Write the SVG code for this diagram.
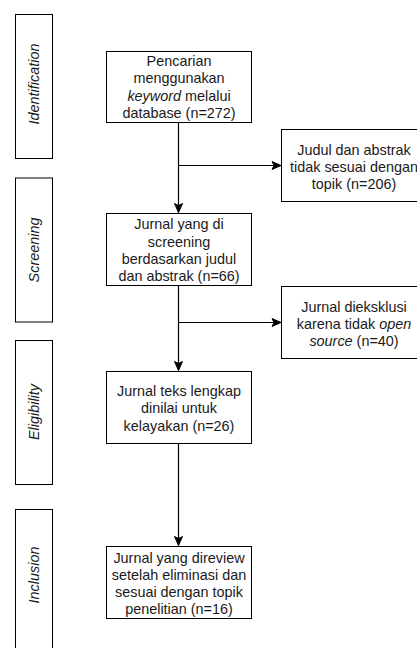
<svg xmlns="http://www.w3.org/2000/svg" width="417" height="648" viewBox="0 0 417 648">
<style>
.box{fill:#fff;stroke:#000;stroke-width:1}
.t{font-family:"Liberation Sans",Arial,Helvetica,sans-serif;font-size:14.4px;fill:#1a1a1a;text-anchor:middle}
.lbl{font-style:italic}
.edge{fill:none;stroke:#000;stroke-width:1.2}
</style>
<defs>
<marker id="arr" markerUnits="userSpaceOnUse" markerWidth="11" markerHeight="10" refX="10" refY="5" orient="auto">
<path d="M1,1 L10,5 L1,9 L3,5 z" fill="#000" stroke="#000" stroke-width="1"/>
</marker>
</defs>
<rect width="417" height="648" fill="#fff"/>

<g id="lbl-identification">
<rect class="box" x="15.5" y="14.5" width="37" height="144"/>
<text class="t lbl" x="39" y="84" transform="rotate(-90 39 84)">Identification</text>
</g>
<g id="lbl-screening">
<rect class="box" x="15.5" y="178" width="37" height="144"/>
<text class="t lbl" x="39" y="250" transform="rotate(-90 39 250)">Screening</text>
</g>
<g id="lbl-eligibility">
<rect class="box" x="15.5" y="340.5" width="37" height="144"/>
<text class="t lbl" x="39" y="412" transform="rotate(-90 39 412)">Eligibility</text>
</g>
<g id="lbl-inclusion">
<rect class="box" x="15.5" y="509.5" width="37" height="144"/>
<text class="t lbl" x="39" y="575" transform="rotate(-90 39 575)">Inclusion</text>
</g>

<g id="connectors">
<path class="edge" d="M178.5,122.5 V212.5" marker-end="url(#arr)"/>
<path class="edge" d="M178.5,165.5 H281" marker-end="url(#arr)"/>
<path class="edge" d="M178.5,285.5 V370.5" marker-end="url(#arr)"/>
<path class="edge" d="M178.5,322.5 H281" marker-end="url(#arr)"/>
<path class="edge" d="M178.5,443.5 V545.5" marker-end="url(#arr)"/>
</g>

<g id="n-search">
<rect class="box" x="106.5" y="51.5" width="145" height="71"/>
<text class="t" x="179" y="66"><tspan x="179">Pencarian</tspan><tspan x="179" dy="17.3">menggunakan</tspan><tspan x="179" dy="17.3"><tspan font-style="italic">keyword</tspan> melalui</tspan><tspan x="179" dy="17.3">database (n=272)</tspan></text>
</g>
<g id="n-excl1">
<rect class="box" x="281.5" y="129.5" width="145" height="72"/>
<text class="t" x="354" y="154.5"><tspan x="354">Judul dan abstrak</tspan><tspan x="354" dy="17.3">tidak sesuai dengan</tspan><tspan x="354" dy="17.3">topik (n=206)</tspan></text>
</g>
<g id="n-screen">
<rect class="box" x="106.5" y="213.5" width="145" height="72"/>
<text class="t" x="179" y="229.3"><tspan x="179">Jurnal yang di</tspan><tspan x="179" dy="17.3">screening</tspan><tspan x="179" dy="17.3">berdasarkan judul</tspan><tspan x="179" dy="17.3">dan abstrak (n=66)</tspan></text>
</g>
<g id="n-excl2">
<rect class="box" x="281.5" y="286.5" width="145" height="72"/>
<text class="t" x="354" y="311.5"><tspan x="354">Jurnal dieksklusi</tspan><tspan x="354" dy="17.3">karena tidak <tspan font-style="italic">open</tspan></tspan><tspan x="354" dy="17.3"><tspan font-style="italic">source</tspan> (n=40)</tspan></text>
</g>
<g id="n-eligible">
<rect class="box" x="106.5" y="371.5" width="145" height="72"/>
<text class="t" x="179" y="396"><tspan x="179">Jurnal teks lengkap</tspan><tspan x="179" dy="17.3">dinilai untuk</tspan><tspan x="179" dy="17.3">kelayakan (n=26)</tspan></text>
</g>
<g id="n-included">
<rect class="box" x="106.5" y="546.5" width="145" height="72"/>
<text class="t" x="179" y="562.5"><tspan x="179">Jurnal yang direview</tspan><tspan x="179" dy="17.3">setelah eliminasi dan</tspan><tspan x="179" dy="17.3">sesuai dengan topik</tspan><tspan x="179" dy="17.3">penelitian (n=16)</tspan></text>
</g>
</svg>
